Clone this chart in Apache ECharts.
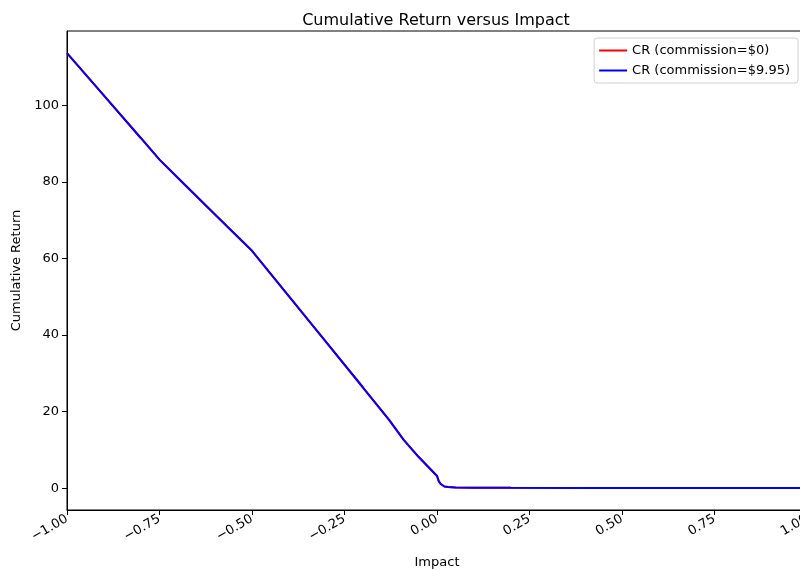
<!DOCTYPE html>
<html>
<head>
<meta charset="utf-8">
<script src="https://cdn.jsdelivr.net/npm/echarts@6/dist/echarts.min.js"></script>
<style>
html,body{margin:0;padding:0;background:#fff;}
#chart{width:800px;height:571px;}
</style>
</head>
<body>
<div id="chart"></div>
<script>
// Data
const impact = [-1.0, -0.9, -0.8, -0.75, -0.7, -0.6, -0.5, -0.4, -0.3, -0.2, -0.13, -0.09, -0.05, 0.0, 0.005, 0.01, 0.02, 0.03, 0.05, 0.1, 0.2, 0.4, 0.6, 0.8, 1.0];
const crNoCommission = [113.6, 102.5, 91.4, 85.8, 81.0, 71.5, 62.0, 50.1, 38.2, 26.3, 17.9, 12.6, 8.2, 3.2, 1.8, 1.1, 0.45, 0.3, 0.2, 0.15, 0.1, 0.08, 0.06, 0.05, 0.05];
const crCommission = [113.6, 102.5, 91.4, 85.8, 81.0, 71.5, 62.0, 50.1, 38.2, 26.3, 17.9, 12.6, 8.2, 3.2, 1.8, 1.1, 0.45, 0.3, 0.2, 0.15, 0.1, 0.08, 0.06, 0.05, 0.05];
const seriesNames = ['CR (commission=$0)', 'CR (commission=$9.95)'];
const xTicks = [-1.0, -0.75, -0.5, -0.25, 0, 0.25, 0.5, 0.75, 1.0];
const yTicks = [0, 20, 40, 60, 80, 100];

const font = 'DejaVu Sans';
const pair = arr => impact.map((x, i) => [x, arr[i]]);
const fmt = v => (v < 0 ? '\u2212' : '') + Math.abs(v).toFixed(2);

const chart = echarts.init(document.getElementById('chart'), null, {renderer: 'canvas'});
chart.setOption({
  animation: false,
  backgroundColor: '#fff',
  textStyle: {fontFamily: font, color: '#000'},
  title: {
    text: 'Cumulative Return versus Impact',
    left: 431, top: 8, textAlign: 'center',
    textStyle: {fontFamily: font, fontSize: 16, fontWeight: 'normal', color: '#000'}
  },
  legend: {
    orient: 'vertical',
    right: 2, top: 38,
    data: seriesNames,
    icon: 'rect',
    itemWidth: 28, itemHeight: 2,
    itemGap: 7,
    padding: [6, 8, 6, 5],
    backgroundColor: '#fff',
    borderColor: '#d0d0d0', borderWidth: 1, borderRadius: 3,
    textStyle: {fontFamily: font, fontSize: 13, color: '#000'}
  },
  grid: {left: 67, top: 31, right: -7, bottom: 61, outerBoundsMode: 'none', containLabel: false, show: true, borderColor: '#000', borderWidth: 1, backgroundColor: 'transparent'},
  xAxis: {
    type: 'value', min: -1, max: 1, interval: 0.25,
    name: 'Impact', nameLocation: 'middle', nameGap: 46,
    nameTextStyle: {fontFamily: font, fontSize: 13, color: '#000'},
    splitLine: {show: false},
    axisLine: {show: true, onZero: false, lineStyle: {color: '#000', width: 1}},
    axisTick: {show: true, inside: false, length: 5, lineStyle: {color: '#000'}, customValues: xTicks},
    axisLabel: {rotate: 30, fontFamily: font, fontSize: 13, color: '#000', margin: 8, formatter: fmt, customValues: xTicks}
  },
  yAxis: {
    type: 'value', min: -5.69, max: 119.4,
    name: 'Cumulative Return', nameLocation: 'middle', nameGap: 42, nameRotate: 90,
    nameTextStyle: {fontFamily: font, fontSize: 13, color: '#000'},
    splitLine: {show: false},
    axisLine: {show: true, onZero: false, lineStyle: {color: '#000', width: 1}},
    axisTick: {show: true, inside: false, length: 5, lineStyle: {color: '#000'}, customValues: yTicks},
    axisLabel: {fontFamily: font, fontSize: 13, color: '#000', margin: 8, customValues: yTicks, formatter: v => String(Math.round(v))}
  },
  series: [
    {name: seriesNames[0], type: 'line', data: pair(crNoCommission), showSymbol: false, color: '#ff0000', lineStyle: {width: 2, color: '#ff0000'}},
    {name: seriesNames[1], type: 'line', data: pair(crCommission), showSymbol: false, color: '#0000ff', lineStyle: {width: 2, color: '#0000ff'}}
  ]
});
</script>
</body>
</html>
